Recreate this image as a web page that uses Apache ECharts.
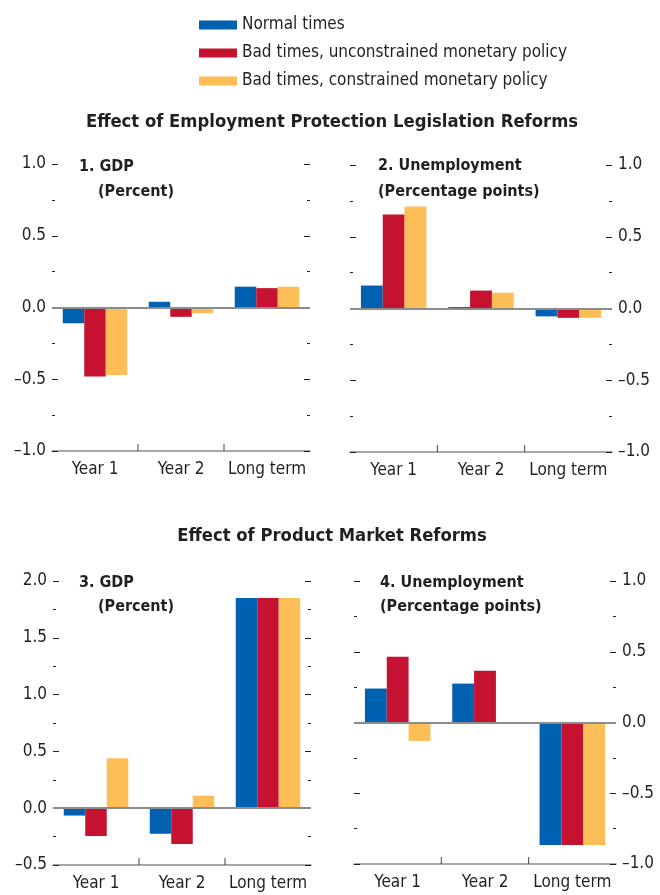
<!DOCTYPE html>
<html>
<head>
<meta charset="utf-8">
<script src="https://cdn.jsdelivr.net/npm/echarts@6/dist/echarts.min.js"></script>
<style>
  html, body { margin: 0; padding: 0; background: #fff; }
  #chart { width: 660px; height: 895px; }
</style>
</head>
<body>
<div id="chart"></div>
<script>
var categories = ['Year 1', 'Year 2', 'Long term'];
var seriesNames = ['Normal times', 'Bad times, unconstrained monetary policy', 'Bad times, constrained monetary policy'];

// Effect of Employment Protection Legislation Reforms
var eplGdpNormal = [-0.11, 0.04, 0.145];
var eplGdpUncon = [-0.48, -0.065, 0.135];
var eplGdpCon = [-0.47, -0.04, 0.145];
var eplUnempNormal = [0.16, 0.01, -0.055];
var eplUnempUncon = [0.655, 0.125, -0.065];
var eplUnempCon = [0.71, 0.11, -0.065];

// Effect of Product Market Reforms
var pmrGdpNormal = [-0.065, -0.225, 1.85];
var pmrGdpUncon = [-0.245, -0.315, 1.85];
var pmrGdpCon = [0.44, 0.11, 1.85];
var pmrUnempNormal = [0.24, 0.275, -0.865];
var pmrUnempUncon = [0.465, 0.365, -0.865];
var pmrUnempCon = [-0.13, 0, -0.865];

var colors = ['#0061b0', '#c41230', '#fdbd57'];
var font = "'Liberation Sans Narrow', 'DejaVu Sans Condensed', 'Roboto Condensed', 'Liberation Sans', sans-serif";
var textColor = '#231f20';
var axisGray = '#8c8c8c';

var panels = [
    { grid: { left: 52, top: 164, width: 258, height: 287 }, min: -1, max: 1, labelRight: false,
      data: [eplGdpNormal, eplGdpUncon, eplGdpCon] },
    { grid: { left: 350, top: 165, width: 262, height: 287 }, min: -1, max: 1, labelRight: true,
      data: [eplUnempNormal, eplUnempUncon, eplUnempCon] },
    { grid: { left: 53, top: 581, width: 258, height: 284 }, min: -0.5, max: 2, labelRight: false,
      data: [pmrGdpNormal, pmrGdpUncon, pmrGdpCon] },
    { grid: { left: 354, top: 581, width: 262, height: 283 }, min: -1, max: 1, labelRight: true,
      data: [pmrUnempNormal, pmrUnempUncon, pmrUnempCon] }
];

function tickLabel(v) {
    return (v < 0 ? '\u2013' : '') + Math.abs(v).toFixed(1);
}

function valueAxis(i, p, side) {
    var showLabel = (side === 'right') === p.labelRight;
    return {
        type: 'value',
        gridIndex: i,
        position: side,
        min: p.min,
        max: p.max,
        interval: 0.5,
        axisLine: { show: false },
        axisTick: { show: true, inside: true, length: 6, lineStyle: { color: textColor, width: 1 } },
        minorTick: { show: true, splitNumber: 2, length: 3, lineStyle: { color: textColor, width: 1 } },
        splitLine: { show: false },
        axisLabel: { show: showLabel, margin: 6, formatter: tickLabel, fontFamily: font, fontSize: 17, color: textColor }
    };
}

var grids = [], xAxes = [], yAxes = [], series = [];

panels.forEach(function (p, i) {
    grids.push(p.grid);
    xAxes.push({
        type: 'category',
        gridIndex: i,
        data: categories,
        position: 'bottom',
        axisLine: { onZero: false, lineStyle: { color: axisGray, width: 1.5 } },
        axisTick: { show: false },
        axisLabel: { interval: 0, margin: 10, fontFamily: font, fontSize: 17, color: textColor }
    });
    yAxes.push(valueAxis(i, p, 'left'));
    yAxes.push(valueAxis(i, p, 'right'));

    p.data.forEach(function (vals, k) {
        var s = {
            name: seriesNames[k],
            type: 'bar',
            xAxisIndex: i,
            yAxisIndex: i * 2,
            data: vals,
            barGap: '0%',
            barCategoryGap: '25%',
            itemStyle: { color: colors[k] },
            animation: false
        };
        if (k === 0) {
            s.markLine = {
                silent: true,
                symbol: ['none', 'none'],
                label: { show: false },
                lineStyle: { color: axisGray, width: 2, type: 'solid' },
                data: [{ yAxis: 0 }],
                animation: false
            };
        }
        series.push(s);
    });

    // category separators on the bottom axis (inner boundaries only)
    series.push({
        type: 'custom',
        xAxisIndex: i,
        yAxisIndex: i * 2,
        silent: true,
        animation: false,
        data: [[1, p.min], [2, p.min]],
        renderItem: function (params, api) {
            var pt = api.coord([api.value(0), api.value(1)]);
            var half = api.size([1, 0])[0] / 2;
            var x = pt[0] - half;
            return {
                type: 'line',
                shape: { x1: x, y1: pt[1], x2: x, y2: pt[1] - 7 },
                style: { stroke: '#444', lineWidth: 1 }
            };
        }
    });
});

function label(x, y, text, bold, size, align) {
    return {
        type: 'text',
        silent: true,
        style: {
            x: x, y: y, text: text,
            fill: textColor,
            font: (bold ? 'bold ' : '') + size + 'px ' + font,
            align: align || 'left',
            verticalAlign: 'middle'
        }
    };
}

var option = {
    backgroundColor: '#fff',
    animation: false,
    color: colors,
    legend: {
        data: seriesNames,
        orient: 'vertical',
        left: 199,
        top: 16,
        padding: 0,
        itemWidth: 38,
        itemHeight: 9,
        itemGap: 10,
        icon: 'rect',
        selectedMode: false,
        textStyle: { fontFamily: font, fontSize: 17, color: textColor, lineHeight: 18 }
    },
    grid: grids,
    xAxis: xAxes,
    yAxis: yAxes,
    series: series,
    graphic: [
        label(332, 122, 'Effect of Employment Protection Legislation Reforms', true, 18.3, 'center'),
        label(332, 536, 'Effect of Product Market Reforms', true, 18.3, 'center'),
        label(79, 167, '1. GDP', true, 16),
        label(98, 192, '(Percent)', true, 16),
        label(378, 166, '2. Unemployment', true, 16),
        label(378, 192, '(Percentage points)', true, 16),
        label(79, 583, '3. GDP', true, 16),
        label(98, 607, '(Percent)', true, 16),
        label(380, 583, '4. Unemployment', true, 16),
        label(380, 607, '(Percentage points)', true, 16)
    ]
};

var chart = echarts.init(document.getElementById('chart'));
chart.setOption(option);
</script>
</body>
</html>
